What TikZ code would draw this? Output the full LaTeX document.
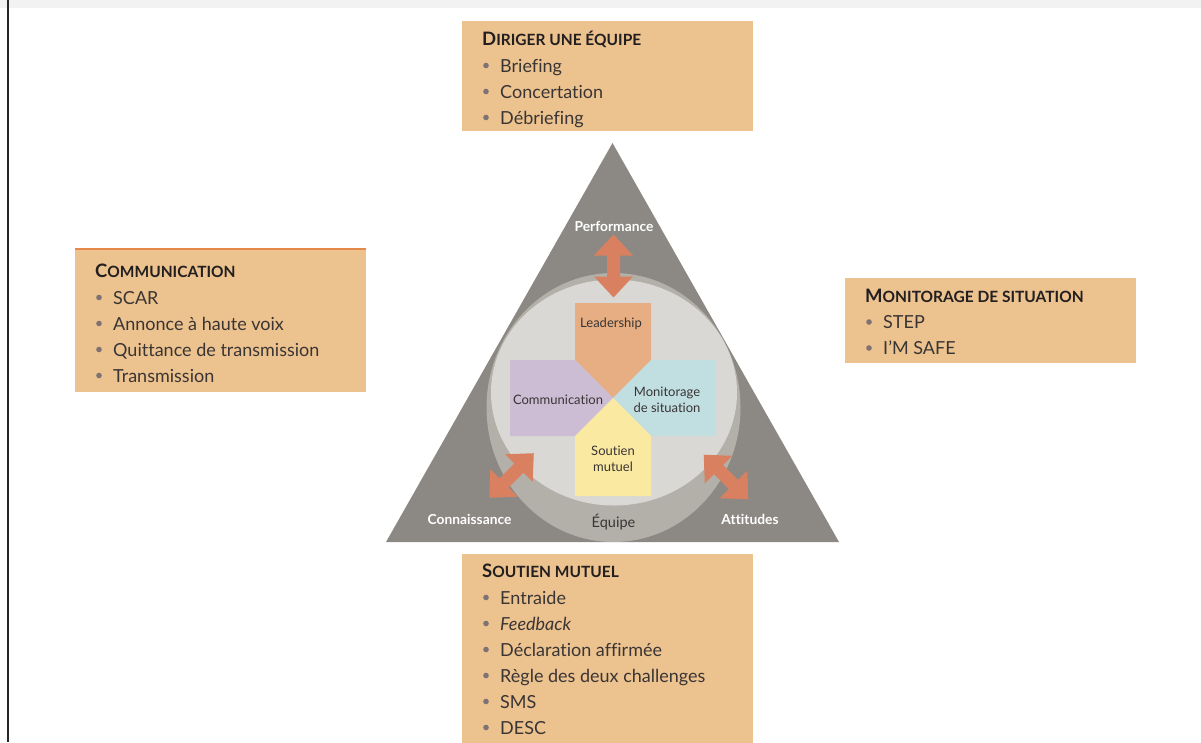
\documentclass[tikz,border=0pt]{standalone}
\usepackage{fontspec}
\setmainfont{Lato}[Ligatures = NoCommon]
\usetikzlibrary{positioning}

\definecolor{panelfill}{HTML}{ECC28E}
\definecolor{panelrule}{HTML}{E4894A}
\definecolor{titleblack}{HTML}{231F20}
\definecolor{itemgray}{HTML}{3A3535}
\definecolor{bulletgray}{HTML}{7E7272}
\definecolor{trianglegray}{HTML}{8C8984}
\definecolor{ringgray}{HTML}{B3B0AA}
\definecolor{diskgray}{HTML}{D9D8D4}
\definecolor{arrowfill}{HTML}{D98060}
\definecolor{leadfill}{HTML}{E6AE82}
\definecolor{commfill}{HTML}{CDBDD4}
\definecolor{monifill}{HTML}{C1DEE1}
\definecolor{soutfill}{HTML}{FAE9A1}

\newcommand{\paneltitle}[2]{{\fontsize{18.5}{20}\selectfont #1}{\fontsize{15.5}{20}\selectfont #2}}

\begin{document}
\begin{tikzpicture}
[
	x								= 1pt,
	y								= -1pt,
	%
	panel/.style					= {fill = panelfill, inner sep = 0pt, anchor = north west, minimum width = 291pt},
	panel title/.style				= {font = \bfseries, text = titleblack, inner sep = 0pt, anchor = base west},
	panel item/.style				= {font = \fontsize{18}{20}\selectfont, text = itemgray, inner sep = 0pt, anchor = base west},
	bullet/.style					= {fill = bulletgray},
	%
	corner label/.style				= {font = \fontsize{13.8}{15}\selectfont\bfseries, text = white, inner sep = 0pt, anchor = base},
	team label/.style				= {font = \fontsize{14.5}{15}\selectfont, text = itemgray, inner sep = 0pt, anchor = base},
	role label/.style				= {font = \fontsize{13}{16}\selectfont, text = itemgray, inner sep = 0pt, align = center},
	%
	pics/dblarrow/.style			=
	{
		code						=
		{
			\fill [arrowfill] (-31.5,0) -- (-10.5,-19.5) -- (-10.5,-6.5) -- (10.5,-6.5) -- (10.5,-19.5)
				-- (31.5,0) -- (10.5,19.5) -- (10.5,6.5) -- (-10.5,6.5) -- (-10.5,19.5) -- cycle;
		}
	},
]
	\useasboundingbox (0,0) rectangle (1201,742);

	% page frame
	\fill [black!5] (0,0) rectangle (1201,8);
	\draw [line width = 2.2pt, black!85] (8,0) -- (8,742);

	% triangle and team disk
	\fill [trianglegray] (612.5,143) -- (839,542) -- (386,542) -- cycle;
	\fill [ringgray] (613.5,407.5) ellipse [x radius = 127, y radius = 134.5];
	\fill [diskgray] (614,392.5) ellipse [x radius = 123, y radius = 113];

	% four roles
	\fill [leadfill] (575,303) -- (651,303) -- (651,360) -- (613,398) -- (575,360) -- cycle;
	\fill [commfill] (510,360) -- (575,360) -- (613,398) -- (575,436) -- (510,436) -- cycle;
	\fill [monifill] (716,360) -- (651,360) -- (613,398) -- (651,436) -- (716,436) -- cycle;
	\fill [soutfill] (575,496) -- (575,436) -- (613,398) -- (651,436) -- (651,496) -- cycle;

	\node [role label, anchor = base] (lead) at (611,327) {Leadership};
	\node [role label, anchor = base] (comm) at (558,404) {Communication};
	\node [role label] (moni) at (667,400) {Monitorage\\de situation};
	\node [role label] (sout) at (613,458.5) {Soutien\\mutuel};

	% arrows
	\pic [rotate = 90] at (613.5,266) {dblarrow};
	\pic [rotate = 45] at (511.5,475.5) {dblarrow};
	\pic [rotate = -45] at (726,477) {dblarrow};

	\node [corner label] (perf) at (614,231) {Performance};
	\node [corner label] (conn) at (469.5,524) {Connaissance};
	\node [corner label] (att) at (750,524) {Attitudes};
	\node [team label] (team) at (613.5,527) {Équipe};

	% panel: diriger une equipe
	\node [panel, minimum height = 110pt] (dirbox) at (462,21) {};
	\node [panel title] (dirtitle) at ([shift = {(20,24)}] dirbox.north west) {\paneltitle{D}{IRIGER UNE ÉQUIPE}};
	\foreach \entry [count = \i] in {Briefing, Concertation, Débriefing}
	{
		\fill [bullet] ([shift = {(24,18.5+26*\i)}] dirbox.north west) circle (2.8);
		\node [panel item] at ([shift = {(38,25+26*\i)}] dirbox.north west) {\entry};
	}

	% panel: communication
	\node [panel, minimum height = 143pt] (commbox) at (75,249) {};
	\draw [line width = 2pt, panelrule] (commbox.north west) -- (commbox.north east);
	\node [panel title] (commtitle) at ([shift = {(20,28)}] commbox.north west) {\paneltitle{C}{OMMUNICATION}};
	\foreach \entry [count = \i] in {SCAR, Annonce à haute voix, Quittance de transmission, Transmission}
	{
		\fill [bullet] ([shift = {(24,22.5+26*\i)}] commbox.north west) circle (2.8);
		\node [panel item] at ([shift = {(38,29+26*\i)}] commbox.north west) {\entry};
	}

	% panel: monitorage de situation
	\node [panel, minimum height = 85pt] (monibox) at (845,278) {};
	\node [panel title] (monititle) at ([shift = {(20,24)}] monibox.north west) {\paneltitle{M}{ONITORAGE DE SITUATION}};
	\foreach \entry [count = \i] in {STEP, I’M SAFE}
	{
		\fill [bullet] ([shift = {(24,18+26*\i)}] monibox.north west) circle (2.8);
		\node [panel item] at ([shift = {(38,24.5+26*\i)}] monibox.north west) {\entry};
	}

	% panel: soutien mutuel
	\node [panel, minimum height = 200pt] (soutbox) at (462,554) {};
	\node [panel title] (souttitle) at ([shift = {(20,23)}] soutbox.north west) {\paneltitle{S}{OUTIEN MUTUEL}};
	\foreach \entry [count = \i] in {Entraide, {\itshape Feedback}, Déclaration affirmée, Règle des deux challenges, SMS, DESC}
	{
		\fill [bullet] ([shift = {(24,17.5+26*\i)}] soutbox.north west) circle (2.8);
		\node [panel item] at ([shift = {(38,24+26*\i)}] soutbox.north west) {\entry};
	}
\end{tikzpicture}
\end{document}
